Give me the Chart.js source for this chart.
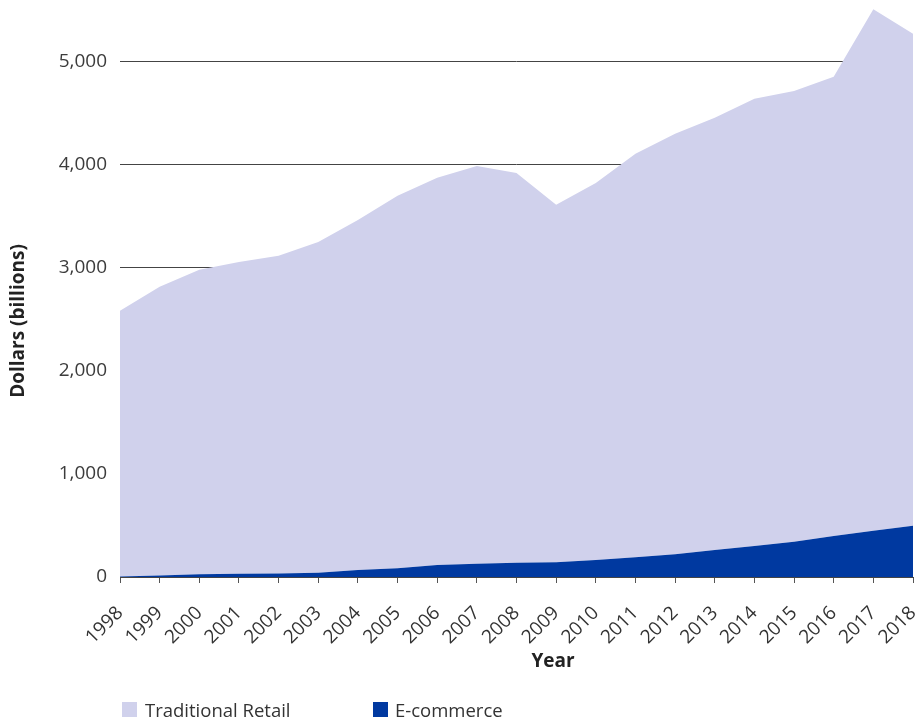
<!DOCTYPE html>
<html>
<head>
<meta charset="utf-8">
<script src="https://cdn.jsdelivr.net/npm/chart.js@4/dist/chart.umd.min.js"></script>
<style>
body { margin: 0; background: #fff; }
#wrap { position: relative; width: 918px; height: 723px; }
.item { position: absolute; top: 698px; font-family: 'Open Sans'; font-size: 18.5px; color: #333; line-height: 24px; }
.box { position: absolute; top: 4px; width: 15px; height: 15px; }
</style>
</head>
<body>
<div id="wrap">
  <canvas id="myChart" width="918" height="723"></canvas>
  <div class="item" style="left:122px"><span class="box" style="left:0;background:#d0d1ec"></span><span style="margin-left:23px">Traditional Retail</span></div>
  <div class="item" style="left:373px"><span class="box" style="left:0;background:#0039a0"></span><span style="margin-left:22px">E-commerce</span></div>
</div>
<script>
const years = ['1998','1999','2000','2001','2002','2003','2004','2005','2006','2007','2008',
               '2009','2010','2011','2012','2013','2014','2015','2016','2017','2018'];
const ecommerce = [5, 15, 27, 32, 33, 42, 68, 84, 116, 129, 139, 142, 165, 191, 220, 262, 301, 343, 398, 450, 498];
const traditional = [2578, 2801, 2954, 3026, 3084, 3210, 3398, 3615, 3758, 3861, 3783,
                     3470, 3660, 3916, 4081, 4194, 4340, 4375, 4456, 5060, 4774];
const yTicks = [0, 1000, 2000, 3000, 4000, 5000];

// axis titles drawn by hand so they sit where the original has them
const axisTitles = {
    id: 'axisTitles',
    afterDraw: (chart) => {
        const ctx = chart.ctx;
        ctx.save();
        ctx.fillStyle = '#222';
        ctx.font = 'bold 19px "Open Sans"';
        ctx.textAlign = 'center';
        ctx.textBaseline = 'middle';
        ctx.fillText('Year', 553, 662);
        ctx.translate(19, 321);
        ctx.rotate(-Math.PI / 2);
        ctx.fillText('Dollars (billions)', 0, 0);
        ctx.restore();
    }
};

var ctx = document.getElementById('myChart').getContext('2d');
var myChart = new Chart(ctx, {
    type: 'line',
    data: {
        labels: years,
        datasets: [{
            label: 'E-commerce',
            data: ecommerce,
            backgroundColor: '#0039a0',
            borderWidth: 0,
            pointRadius: 0,
            fill: 'origin'
        }, {
            label: 'Traditional Retail',
            data: traditional,
            backgroundColor: '#d0d1ec',
            borderWidth: 0,
            pointRadius: 0,
            fill: '-1'
        }]
    },
    options: {
        responsive: false,
        animation: false,
        layout: { padding: { top: 0, right: 5, bottom: 50, left: 0 } },
        scales: {
            x: {
                offset: false,
                grid: { drawOnChartArea: false, tickLength: 6, color: '#555' },
                border: { color: '#444', width: 1 },
                ticks: {
                    minRotation: 45,
                    maxRotation: 45,
                    padding: 19,
                    color: '#333',
                    font: { family: 'Open Sans', size: 19 }
                },
                afterFit: (scale) => {
                    scale.height = 96;
                    scale.paddingLeft = 0;
                    scale.paddingRight = 0;
                }
            },
            y: {
                stacked: true,
                min: 0,
                max: 5600,
                afterBuildTicks: (scale) => {
                    scale.ticks = yTicks.map(v => ({ value: v }));
                },
                grid: {
                    drawTicks: false,
                    color: (c) => (c.tick && c.tick.value > 0) ? '#444' : 'rgba(0,0,0,0)'
                },
                border: { display: false },
                ticks: {
                    padding: 13,
                    color: '#3c3c3c',
                    font: { family: 'Open Sans', size: 19 },
                    callback: (v) => v.toLocaleString('en-US')
                },
                afterFit: (scale) => {
                    scale.width = 120;
                    scale.paddingTop = 0;
                    scale.paddingBottom = 0;
                }
            }
        },
        plugins: {
            legend: { display: false },
            tooltip: { enabled: false }
        }
    },
    plugins: [axisTitles]
});
</script>
</body>
</html>
